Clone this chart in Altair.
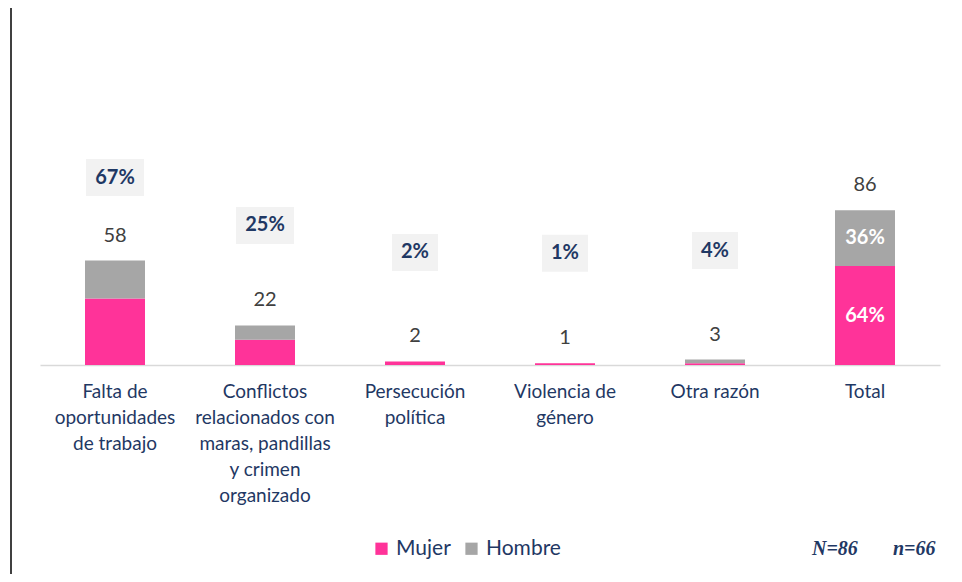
import altair as alt
import pandas as pd

# ---- data ----
categories = [
    ["Falta de", "oportunidades", "de trabajo"],
    ["Conflictos", "relacionados con", "maras, pandillas", "y crimen", "organizado"],
    ["Persecución", "política"],
    ["Violencia de", "género"],
    ["Otra razón"],
    ["Total"],
]
mujer = [37, 14, 2, 1, 1, 55]
hombre = [21, 8, 0, 0, 2, 31]
totals = [58, 22, 2, 1, 3, 86]
pct_labels = ["67%", "25%", "2%", "1%", "4%", ""]
total_pct = ["64%", "36%"]
sexes = ["Mujer", "Hombre"]
notes = ["N=86", "n=66"]

# ---- layout / style ----
PINK = "#FF3399"
GREY = "#A6A6A6"
NAVY = "#1F3864"
W, H = 900, 345
YMAX = 191.7
PX = H / YMAX  # pixels per unit
box_px_above = [83, 100, 109, 110, 109, 0]  # % box centre above bar top (px)
BOX_H = 37
note_x_px = [772, 853]

cat_ids = list(range(len(categories)))
rows = []
for i in cat_ids:
    rows.append({"cat": i, "sex": "Mujer", "ord": 0, "v": mujer[i]})
    rows.append({"cat": i, "sex": "Hombre", "ord": 1, "v": hombre[i]})
stack = pd.DataFrame(rows)

info = pd.DataFrame({"cat": cat_ids, "total": totals, "pct": pct_labels})
info["label"] = categories
info["box_c"] = [t + p / PX for t, p in zip(totals, box_px_above)]
boxes = info[info["pct"] != ""][["cat", "pct", "box_c"]]
wide_boxes = boxes[boxes["pct"].str.len() > 2]
narrow_boxes = boxes[boxes["pct"].str.len() <= 2]

tot_i = cat_ids[-1]
inner = pd.DataFrame({
    "cat": [tot_i, tot_i],
    "y": [mujer[tot_i] / 2, mujer[tot_i] + hombre[tot_i] / 2],
    "t": total_pct,
})

xenc = alt.X("cat:O", scale=alt.Scale(domain=cat_ids, paddingInner=0, paddingOuter=0),
             axis=alt.Axis(labels=False, ticks=False, title=None, domainColor="#D9D9D9",
                           domainWidth=1.5))
yscale = alt.Scale(domain=[0, YMAX], nice=False, zero=True)


def box_layer(df, width):
    h = BOX_H / width
    path = f"M-1,-{h:.3f}L1,-{h:.3f}L1,{h:.3f}L-1,{h:.3f}Z"
    return alt.Chart(df).mark_point(shape=path, filled=True, color="#F2F2F2",
                                    opacity=1, size=width * width, strokeWidth=0).encode(
        x=xenc, y=alt.Y("box_c:Q", scale=yscale))


box_wide = box_layer(wide_boxes, 58)
box_narrow = box_layer(narrow_boxes, 46)

bars = alt.Chart(stack).mark_bar(size=60).encode(
    x=xenc,
    y=alt.Y("v:Q", stack="zero", scale=yscale, axis=None),
    color=alt.Color("sex:N", scale=alt.Scale(domain=sexes, range=[PINK, GREY]),
                    legend=alt.Legend(orient="none", legendX=331, legendY=518,
                                      direction="horizontal", title=None,
                                      symbolType="square", symbolSize=150,
                                      labelFontSize=21,
                                      labelFont="Lato", labelColor=NAVY)),
    order=alt.Order("ord:Q"),
)

values = alt.Chart(info).mark_text(font="Lato", fontSize=20, color="#404040",
                                   baseline="middle", dy=-25).encode(
    x=xenc, y=alt.Y("total:Q", scale=yscale), text="total:Q")

box_txt = alt.Chart(boxes).mark_text(font="Lato", fontSize=20, fontWeight="bold",
                                     color=NAVY, baseline="middle").encode(
    x=xenc, y=alt.Y("box_c:Q", scale=yscale), text="pct:N")

inner_txt = alt.Chart(inner).mark_text(font="Lato", fontSize=20, fontWeight="bold",
                                       color="white", baseline="middle").encode(
    x=xenc, y=alt.Y("y:Q", scale=yscale), text="t:N")

cat_txt = alt.Chart(info).mark_text(font="Lato", fontSize=19, color=NAVY,
                                    baseline="top", lineHeight=26).encode(
    x=xenc, y=alt.value(H + 18), text="label")

note_layers = [
    alt.Chart(pd.DataFrame({"t": [t]})).mark_text(
        font="Liberation Serif", fontSize=20, fontWeight="bold", fontStyle="italic",
        color=NAVY, align="left", baseline="middle").encode(
        x=alt.value(nx), y=alt.value(529), text="t:N")
    for t, nx in zip(notes, note_x_px)
]

frame = alt.Chart(pd.DataFrame({"a": [0]})).mark_rule(color="black", strokeWidth=1.5).encode(
    x=alt.value(-29), y=alt.value(-12), y2=alt.value(555))

chart = alt.layer(bars, box_wide, box_narrow, values, box_txt, inner_txt, cat_txt,
                  *note_layers, frame).properties(
    width=W, height=H,
    padding={"left": 32, "top": 12, "right": 14, "bottom": 209},
    autosize=alt.AutoSizeParams(type="none"),
).configure_view(strokeWidth=0)

chart.save("out.html", embed_options={"renderer": "svg", "actions": False})
